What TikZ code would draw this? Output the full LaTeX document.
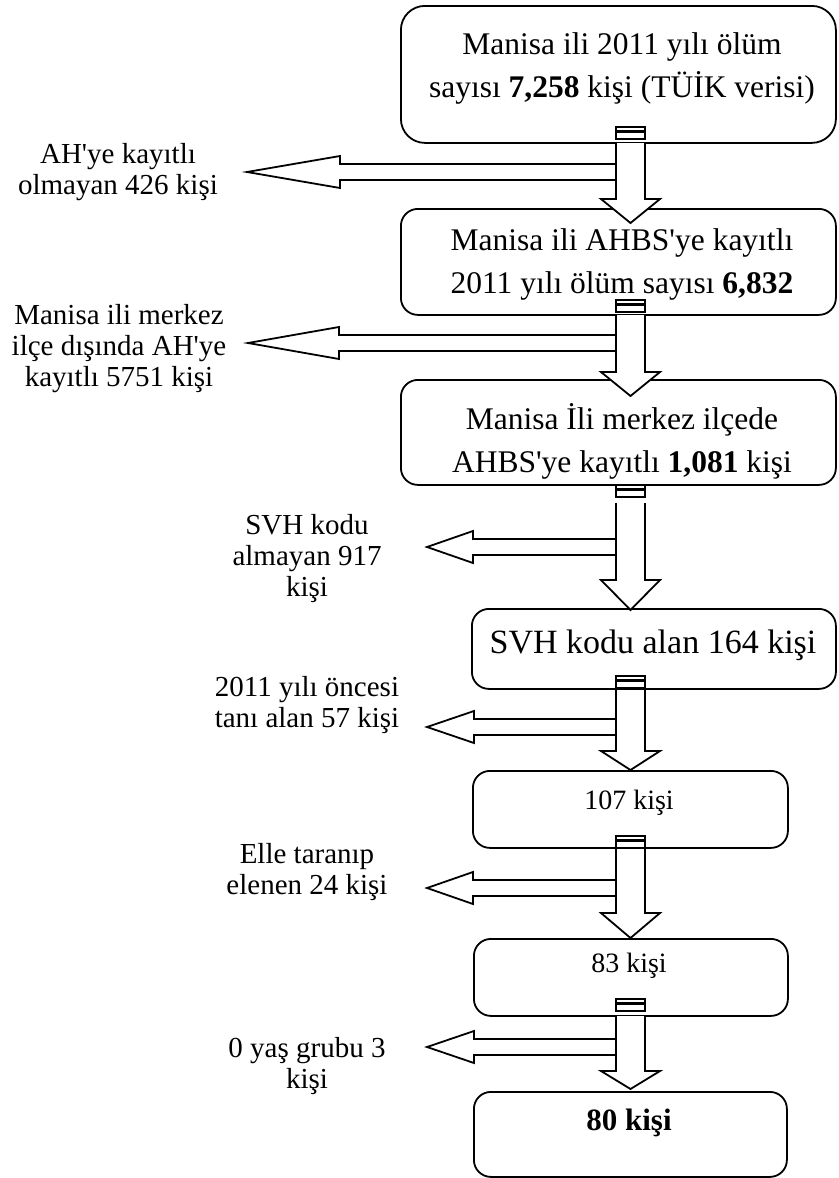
\documentclass[tikz,border=0pt]{standalone}
\usepackage{fontspec}
\setmainfont{Liberation Serif}[Ligatures=TeXOff]

% block arrow pointing down, with the two small caps above the shaft
% #1 cap top, #2 shaft top, #3 head base, #4 tip
\newcommand\downblock[4]{%
  \draw[blk, line width=1.2pt] (616,#1) rectangle (645,#1+4);
  \draw[blk, line width=1.2pt] (616,#1+5.5) rectangle (645,#1+12);
  \draw[blk] (616,#2) -- (616,#3) -- (601,#3) -- (630.5,#4) -- (660,#3) -- (645,#3) -- (645,#2);
}
% block arrow pointing left out of the down shaft
% #1 centre line, #2 head base, #3 tip
\newcommand\leftblock[3]{%
  \draw[blk] (616,#1-8) -- (#2,#1-8) -- (#2,#1-16) -- (#3,#1) -- (#2,#1+16) -- (#2,#1+8) -- (616,#1+8);
}

\begin{document}
\begin{tikzpicture}[x=1pt,y=-1pt,
  box/.style={draw, line width=1.8pt, rounded corners=17pt, anchor=north west, inner sep=0pt},
  boxtxt/.style={font=\fontsize{31.5}{43}\selectfont, align=center, inner sep=0pt},
  lbl/.style={font=\fontsize{29}{31}\selectfont, align=center, inner sep=0pt},
  blk/.style={draw, line width=1.8pt, fill=white, line join=miter}]
\useasboundingbox (0,0) rectangle (838,1178);

% boxes
\node[box, rounded corners=24pt, minimum width=435pt, minimum height=137pt] (b1) at (400,5) {};
\node[box, minimum width=435pt, minimum height=106pt] (b2) at (400,208) {};
\node[box, minimum width=435pt, minimum height=105pt] (b3) at (400,379) {};
\node[box, minimum width=364pt, minimum height=80pt] (b4) at (471,608) {};
\node[box, minimum width=315pt, minimum height=77pt] (b5) at (472,770) {};
\node[box, minimum width=314pt, minimum height=77pt] (b6) at (473,938) {};
\node[box, minimum width=313pt, minimum height=85pt] (b7) at (473,1091) {};

% box texts
\node[boxtxt] (t1) at (622,68) {Manisa ili 2011 yılı ölüm\\sayısı \textbf{7,258} kişi (TÜİK verisi)};
\node[boxtxt] (t2) at (622,264) {Manisa ili AHBS'ye kayıtlı\\2011 yılı ölüm sayısı \textbf{6,832}};
\node[boxtxt] (t3) at (622,441) {Manisa İli merkez ilçede\\AHBS'ye kayıtlı \textbf{1,081} kişi};
\node[boxtxt, font=\fontsize{34}{40}\selectfont] (t4) at (653,645) {SVH kodu alan 164 kişi};
\node[boxtxt, font=\fontsize{28}{34}\selectfont] (t5) at (629,803) {107 kişi};
\node[boxtxt, font=\fontsize{28}{34}\selectfont] (t6) at (629,966) {83 kişi};
\node[boxtxt, font=\fontsize{31}{36}\selectfont] (t7) at (629,1123) {\textbf{80 kişi}};

% side labels
\node[lbl] (l1) at (118,172) {AH'ye kayıtlı\\olmayan 426 kişi};
\node[lbl] (l2) at (119,349) {Manisa ili merkez\\ilçe dışında AH'ye\\kayıtlı 5751 kişi};
\node[lbl] (l3) at (307,559) {SVH kodu\\almayan 917\\kişi};
\node[lbl] (l4) at (307,705) {2011 yılı öncesi\\tanı alan 57 kişi};
\node[lbl] (l5) at (307,872) {Elle taranıp\\elenen 24 kişi};
\node[lbl] (l6) at (307,1066) {0 yaş grubu 3\\kişi};

% arrows leaving to the left
\leftblock{172}{340}{247}
\leftblock{343}{339}{248}
\leftblock{547}{473}{427}
\leftblock{727}{474}{427}
\leftblock{888}{473}{427}
\leftblock{1047}{474}{427}

% arrows going down
\downblock{127}{143}{199}{223}
\downblock{300}{315}{372}{396}
\downblock{485}{503}{580}{610}
\downblock{676}{690}{751}{770}
\downblock{836}{849}{913}{938}
\downblock{999}{1016}{1071}{1089}
\end{tikzpicture}
\end{document}
